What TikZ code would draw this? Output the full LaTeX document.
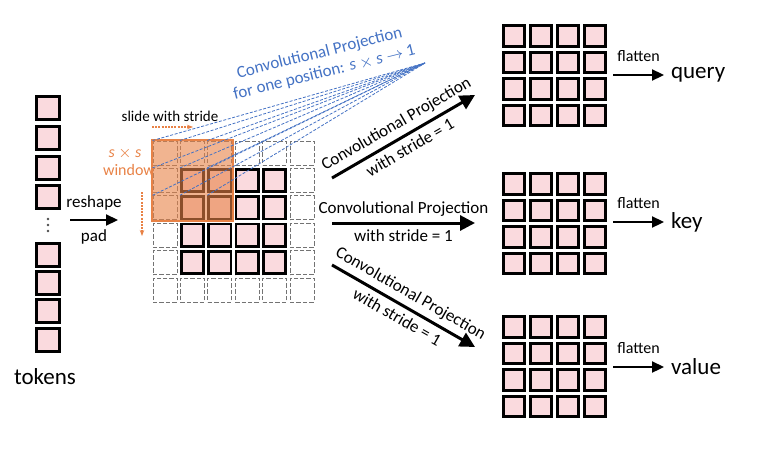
\documentclass[tikz,border=0pt]{standalone}
\usepackage{fontspec}
\setmainfont{Carlito}
\usetikzlibrary{arrows.meta}

\definecolor{cellpink}{RGB}{250,218,222}
\definecolor{winorange}{RGB}{232,130,70}
\definecolor{projblue}{RGB}{68,114,196}

\begin{document}
\begin{tikzpicture}[x=0.5pt,y=-0.5pt,
    cell/.style={draw=black,line width=1.4pt,fill=cellpink,minimum size=11.2pt,inner sep=0pt},
    outcell/.style={cell,minimum size=10.3pt,line width=1.35pt},
    padcell/.style={draw=gray!90!black,dashed,dash pattern=on 2.2pt off 1pt,line width=0.5pt,minimum size=12pt,inner sep=0pt},
    dot/.style={circle,fill=black!70,minimum size=1.3pt,inner sep=0pt},
    bigarrow/.style={line width=1.5pt,-{Triangle[length=7.5pt,width=7.5pt]}},
    smallarrow/.style={line width=1.1pt,-{Triangle[length=6pt,width=5.5pt]}},
    projline/.style={projblue,dashed,dash pattern=on 1.5pt off 0.8pt,line width=0.4pt},
    lbl/.style={font=\fontsize{8.5}{10}\selectfont,inner sep=1.5pt},
    smalllbl/.style={font=\fontsize{7.5}{9}\selectfont},
    word/.style={font=\fontsize{11.5}{13}\selectfont}]
    \useasboundingbox (0,0) rectangle (763,449);

    % token column
    \foreach \i/\y in {1/108,2/138,3/168,4/197,5/255,6/283,7/311,8/340}
        \node[cell] (t\i) at (48,\y) {};
    \foreach \d/\y in {1/219,2/225,3/231}
        \node[dot] (dot\d) at (48,\y) {};
    \node[word] (tokens) at (45,377) {tokens};

    % reshape / pad
    \coordinate (rs) at (70,220);
    \coordinate (re) at (118,220);
    \draw[smallarrow] (rs) -- (re)
        node[midway,above=1pt,font=\fontsize{8.5}{10}\selectfont] (reshape) {reshape}
        node[midway,below=1pt,font=\fontsize{8.5}{10}\selectfont] (pad) {pad};

    % padded grid
    \foreach \r in {0,...,5}
        \foreach \c in {0,...,5}
            \node[padcell] (p-\r-\c) at ({165+27.4*\c},{153+27.4*\r}) {};
    \foreach \r in {1,...,4}
        \foreach \c in {1,...,4}
            \node[cell] (g-\r-\c) at ({165+27.4*\c},{153+27.4*\r}) {};

    % sliding window
    \draw[winorange,fill=winorange,fill opacity=0.6,line width=1pt]
        ([shift={(-1,-1)}]p-0-0.north west) rectangle ([shift={(1,1)}]p-2-2.south east);
    \node[smalllbl] (slide) at (170,116) {slide with stride};
    \coordinate (sh1) at (152,127);
    \coordinate (sh2) at (193,127);
    \draw[winorange,dashed,dash pattern=on 1pt off 0.6pt,line width=0.6pt,-{Stealth[length=3pt]}] (sh1) -- (sh2);
    \node[winorange,font=\fontsize{8}{9}\selectfont] (sxs) at (125,153) {\textit{s} $\times$ \textit{s}};
    \node[winorange,font=\fontsize{8}{9}\selectfont] (window) at (129,170) {window};
    \coordinate (sv1) at (142,192);
    \coordinate (sv2) at (142,236);
    \draw[winorange,dashed,dash pattern=on 1pt off 0.6pt,line width=0.6pt,-{Stealth[length=3pt]}] (sv1) -- (sv2);

    % projection of one position
    \coordinate (focus) at (425,63);
    \foreach \r in {0,1,2}
        \foreach \c in {0,1,2}
            \draw[projline] (p-\r-\c.north west) -- (focus);
    \node[projblue,lbl,rotate=14,align=center,inner sep=0pt] (projtext) at (322,63)
        {Convolutional Projection\\for one position: \textit{s} $\times$ \textit{s} $\rightarrow$ 1};

    % three projections
    \coordinate (a1s) at (332,178);
    \coordinate (a1e) at (475,95);
    \coordinate (a2s) at (332,223);
    \coordinate (a2e) at (475,223);
    \coordinate (a3s) at (332,265);
    \coordinate (a3e) at (475,347);
    \foreach \a in {1,2,3}
        \draw[bigarrow] (a\a s) -- (a\a e)
            node[midway,sloped,above=1pt,lbl] (cp\a) {Convolutional Projection}
            node[midway,sloped,below=1pt,lbl] (ws\a) {with stride = 1};

    % output grids
    \foreach \g/\y in {q/36,k/184,v/327}
        \foreach \r in {0,...,3}
            \foreach \c in {0,...,3}
                \node[outcell] (\g-\r-\c) at ({514+27*\c},{\y+26.5*\r}) {};

    % flatten
    \foreach \g/\y/\w in {q/75/query,k/222/key,v/367/value} {
        \coordinate (\g f) at (613,\y);
        \node[word,anchor=west] (\w) at (664,\y) {\w};
        \draw[smallarrow] (\g f) -- (\w) node[midway,above=3pt,font=\fontsize{8}{9}\selectfont] (\g fl) {flatten};
    }
\end{tikzpicture}
\end{document}
